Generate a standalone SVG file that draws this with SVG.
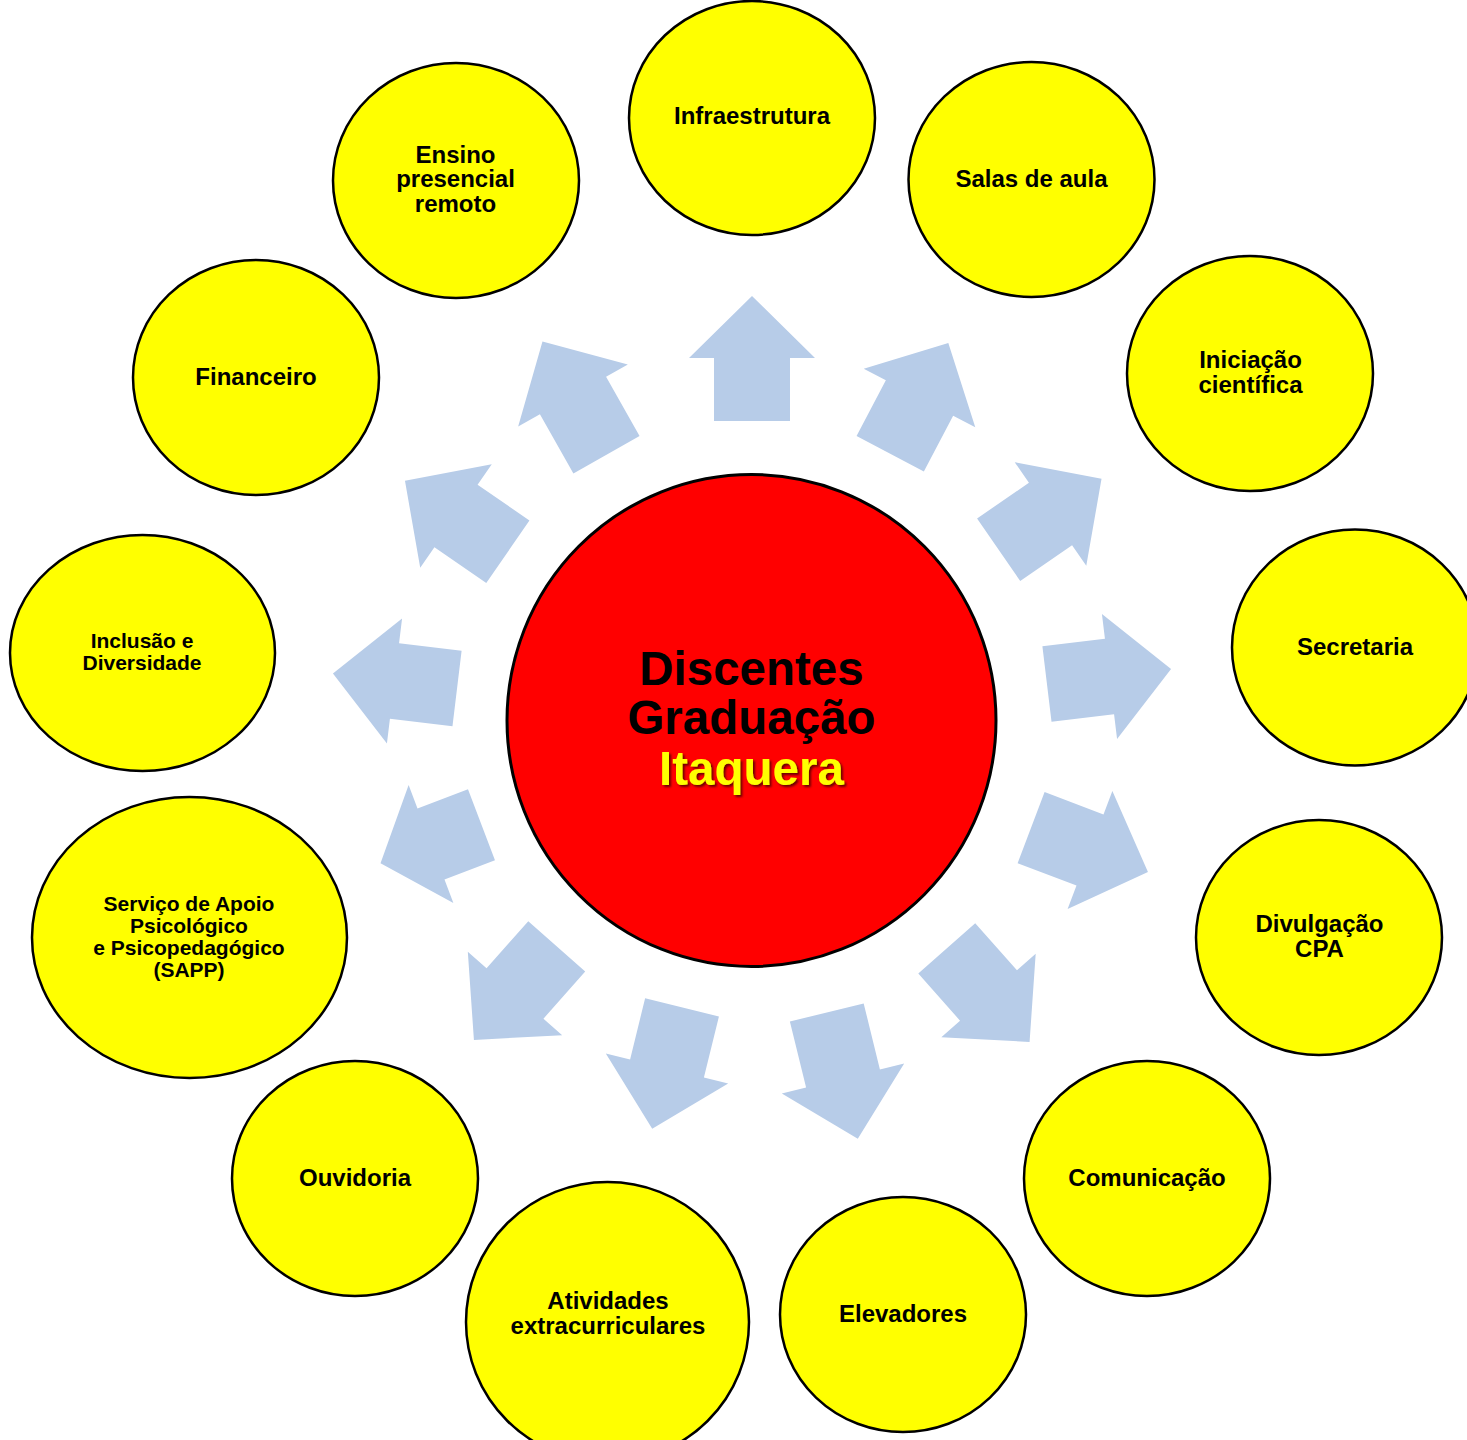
<svg xmlns="http://www.w3.org/2000/svg" xmlns:xlink="http://www.w3.org/1999/xlink" width="1467" height="1440" viewBox="0 0 1467 1440">
<style>
.node{fill:#FFFF00;stroke:#000;stroke-width:2.5}
.hub{fill:#FF0000;stroke:#000;stroke-width:3}
.lbl{font-family:"Liberation Sans",Arial,sans-serif;font-weight:bold;font-size:24px;fill:#000;text-anchor:middle}
.sm{font-size:21px}
.big{font-family:"Liberation Sans",Arial,sans-serif;font-weight:bold;font-size:47.5px;text-anchor:middle}
.arrow{fill:#B7CCE8}
</style>
<defs>
<path id="arr" d="M0,-62 L63,0 L38,0 L38,63 L-38,63 L-38,0 L-63,0 Z"/>
<filter id="shadow" x="-10%" y="-20%" width="130%" height="150%">
<feDropShadow dx="2" dy="2" stdDeviation="1.2" flood-color="#3a0000" flood-opacity="0.75"/>
</filter>
</defs>
<rect x="0" y="0" width="1467" height="1440" fill="#FFFFFF"/>
<g id="connectors" class="arrow">
<use xlink:href="#arr" href="#arr" transform="translate(752 358) rotate(0)"/>
<use xlink:href="#arr" href="#arr" transform="translate(919.5 398) rotate(27.7)"/>
<use xlink:href="#arr" href="#arr" transform="translate(1050.5 514) rotate(55.4)"/>
<use xlink:href="#arr" href="#arr" transform="translate(1109.5 676.5) rotate(83.1)"/>
<use xlink:href="#arr" href="#arr" transform="translate(1090 850) rotate(110.8)"/>
<use xlink:href="#arr" href="#arr" transform="translate(988.5 995.5) rotate(138.5)"/>
<path d="M0,-62 L63,0 L38,0 L38,68 L-38,68 L-38,0 L-63,0 Z" transform="translate(843 1078.5) rotate(166.2)"/>
<use xlink:href="#arr" href="#arr" transform="translate(667 1068.5) rotate(193.8)"/>
<use xlink:href="#arr" href="#arr" transform="translate(515 993.5) rotate(221.5)"/>
<path d="M0,-54 L63,0 L38,0 L38,54 L-38,54 L-38,0 L-63,0 Z" transform="translate(431 844) rotate(249.2)"/>
<use xlink:href="#arr" href="#arr" transform="translate(394.5 681) rotate(276.9)"/>
<use xlink:href="#arr" href="#arr" transform="translate(456 516) rotate(304.6)"/>
<path d="M0,-62 L63,0 L38,0 L38,68 L-38,68 L-38,0 L-63,0 Z" transform="translate(573 395.5) rotate(330.5)"/>
</g>
<g id="hub">
<ellipse class="hub" cx="751.5" cy="720.5" rx="244.5" ry="246"/>
<text class="big" x="751.5" y="685" fill="#000">Discentes</text>
<text class="big" x="751.5" y="734" fill="#000">Graduação</text>
<text class="big" x="751.5" y="785" fill="#FFFF00" filter="url(#shadow)">Itaquera</text>
</g>
<g id="n-infraestrutura">
<ellipse class="node" cx="752" cy="118" rx="123" ry="117"/>
<text class="lbl" x="752" y="123.5">Infraestrutura</text>
</g>
<g id="n-salas">
<ellipse class="node" cx="1031.5" cy="179.5" rx="123" ry="117.5"/>
<text class="lbl" x="1031.5" y="186.5">Salas de aula</text>
</g>
<g id="n-iniciacao">
<ellipse class="node" cx="1250" cy="373.5" rx="123" ry="117.5"/>
<text class="lbl" x="1250.5" y="367.5">Iniciação</text>
<text class="lbl" x="1250.5" y="392.5">científica</text>
</g>
<g id="n-secretaria">
<ellipse class="node" cx="1355" cy="647.5" rx="123" ry="118"/>
<text class="lbl" x="1355" y="654.5">Secretaria</text>
</g>
<g id="n-divulgacao">
<ellipse class="node" cx="1319" cy="937.5" rx="123" ry="117.5"/>
<text class="lbl" x="1319.5" y="931.5">Divulgação</text>
<text class="lbl" x="1319.5" y="956.5">CPA</text>
</g>
<g id="n-comunicacao">
<ellipse class="node" cx="1147" cy="1178.5" rx="123" ry="117.5"/>
<text class="lbl" x="1147" y="1185.5">Comunicação</text>
</g>
<g id="n-elevadores">
<ellipse class="node" cx="903" cy="1314.5" rx="123" ry="117.5"/>
<text class="lbl" x="903" y="1321.5">Elevadores</text>
</g>
<g id="n-atividades">
<ellipse class="node" cx="607.5" cy="1322" rx="141.5" ry="140"/>
<text class="lbl" x="608" y="1308.5">Atividades</text>
<text class="lbl" x="608" y="1333.5">extracurriculares</text>
</g>
<g id="n-ouvidoria">
<ellipse class="node" cx="355" cy="1178.5" rx="123" ry="117.5"/>
<text class="lbl" x="355" y="1185.5">Ouvidoria</text>
</g>
<g id="n-sapp">
<ellipse class="node" cx="189.5" cy="937.5" rx="157.5" ry="140.5"/>
<text class="lbl sm" x="189" y="910.5">Serviço de Apoio</text>
<text class="lbl sm" x="189" y="932.5">Psicológico</text>
<text class="lbl sm" x="189" y="954.5">e Psicopedagógico</text>
<text class="lbl sm" x="189" y="976.5">(SAPP)</text>
</g>
<g id="n-inclusao">
<ellipse class="node" cx="142.5" cy="653" rx="132.5" ry="118"/>
<text class="lbl sm" x="142" y="647.5">Inclusão e</text>
<text class="lbl sm" x="142" y="669.5">Diversidade</text>
</g>
<g id="n-financeiro">
<ellipse class="node" cx="256" cy="377.5" rx="123" ry="117.5"/>
<text class="lbl" x="256" y="384.5">Financeiro</text>
</g>
<g id="n-ensino">
<ellipse class="node" cx="456" cy="180.5" rx="123" ry="117.5"/>
<text class="lbl" x="455.5" y="162.5">Ensino</text>
<text class="lbl" x="455.5" y="187">presencial</text>
<text class="lbl" x="455.5" y="211.5">remoto</text>
</g>
</svg>
